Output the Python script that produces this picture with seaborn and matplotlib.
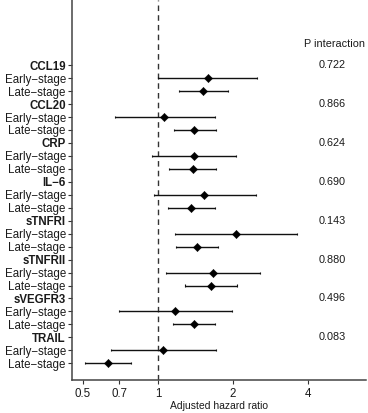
import numpy as np
import pandas as pd
import matplotlib
matplotlib.use("Agg")
import matplotlib.pyplot as plt
import seaborn as sns

# biomarkers, in top-to-bottom order
markers = ['CCL19', 'CCL20', 'CRP', 'IL−6', 'sTNFRI', 'sTNFRII', 'sVEGFR3', 'TRAIL']
p_interaction = ['0.722', '0.866', '0.624', '0.690', '0.143', '0.880', '0.496', '0.083']

# hazard ratios (early-stage, late-stage) per marker
hr_early = [1.59, 1.06, 1.39, 1.53, 2.06, 1.67, 1.17, 1.05]
lo_early = [1.00, 0.67, 0.95, 0.96, 1.17, 1.08, 0.70, 0.65]
hi_early = [2.50, 1.69, 2.05, 2.47, 3.62, 2.57, 1.98, 1.71]
hr_late = [1.52, 1.40, 1.38, 1.36, 1.44, 1.64, 1.39, 0.63]
lo_late = [1.21, 1.16, 1.11, 1.10, 1.18, 1.28, 1.15, 0.51]
hi_late = [1.91, 1.71, 1.71, 1.69, 1.75, 2.08, 1.70, 0.78]

x_ticks = [0.5, 0.7, 1, 2, 4]
x_ticklabels = ['0.5', '0.7', '1', '2', '4']

# build long table: three rows per marker (header, early, late)
rows = []
n = len(markers)
for i, m in enumerate(markers):
    base = 3 * (n - i)
    rows.append(dict(label=m, y=base, hr=np.nan, lo=np.nan, hi=np.nan, header=True, p=p_interaction[i]))
    rows.append(dict(label='Early−stage', y=base - 1, hr=hr_early[i], lo=lo_early[i], hi=hi_early[i], header=False, p=''))
    rows.append(dict(label='Late−stage', y=base - 2, hr=hr_late[i], lo=lo_late[i], hi=hi_late[i], header=False, p=''))
df = pd.DataFrame(rows)

sns.set_theme(style='ticks')
plt.rcParams['font.family'] = ['Liberation Sans', 'DejaVu Sans']

fig = plt.figure(figsize=(3.68, 4.13), dpi=100)
ax = fig.add_axes([72 / 368, 33 / 413, 294 / 368, 380 / 413])

est = df[~df['header']]
ax.hlines(est['y'], est['lo'], est['hi'], color='#111111', linewidth=1.0, zorder=2)
ax.vlines(est['lo'], est['y'] - 0.08, est['y'] + 0.08, color='#111111', linewidth=0.8, zorder=2)
ax.vlines(est['hi'], est['y'] - 0.08, est['y'] + 0.08, color='#111111', linewidth=0.8, zorder=2)
sns.scatterplot(data=est, x='hr', y='y', marker='D', s=18, color='black',
                edgecolor='black', linewidth=0.3, ax=ax, zorder=3, legend=False)

ax.axvline(1, color='#333333', linestyle=(0, (4, 3)), linewidth=1.0, zorder=1)

ax.set_xscale('log')
ax.set_xlim(0.452, 6.84)
ax.set_ylim(-0.29, 29.03)
ax.set_xticks(x_ticks)
ax.set_xticklabels(x_ticklabels)
ax.xaxis.set_minor_locator(matplotlib.ticker.NullLocator())

ax.set_yticks(df['y'])
ax.set_yticklabels(df['label'])
for lab, hdr in zip(ax.get_yticklabels(), df['header']):
    if hdr:
        lab.set_fontweight('bold')

ax.tick_params(axis='both', length=3, width=0.8, color='#333333', labelsize=8.3,
               labelcolor='#1a1a1a', pad=1.5)
ax.tick_params(axis='x', labelsize=8.3, pad=3)

# p interaction column
hdr = df[df['header']]
for _, r in hdr.iterrows():
    ax.text(5.0, r['y'], r['p'], ha='center', va='center', fontsize=7.8, color='#1a1a1a')
ax.text(5.1, 25.6, 'P interaction', ha='center', va='center', fontsize=7.8, color='#1a1a1a')

ax.set_xlabel('Adjusted hazard ratio', fontsize=7.5, color='#1a1a1a', labelpad=0.5)
ax.set_ylabel('')

for s in ['top', 'right']:
    ax.spines[s].set_visible(False)
for s in ['left', 'bottom']:
    ax.spines[s].set_color('#444444')
    ax.spines[s].set_linewidth(1.1)

fig.savefig('out.png', dpi=100)
